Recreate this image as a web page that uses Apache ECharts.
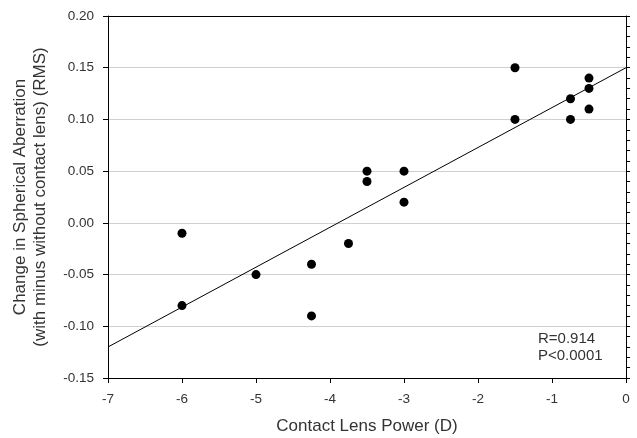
<!DOCTYPE html>
<html>
<head>
<meta charset="utf-8">
<script src="https://cdn.jsdelivr.net/npm/echarts@6/dist/echarts.min.js"></script>
<style>html,body{margin:0;padding:0;background:#fff;}#c{width:637px;height:438px;}</style>
</head>
<body>
<div id="c"></div>
<script>
// Data
const lensPower = [-6, -6, -5, -4.25, -4.25, -3.75, -3.5, -3.5, -3, -3, -1.5, -1.5, -0.75, -0.75, -0.5, -0.5, -0.5];
const saChange  = [-0.01, -0.08, -0.05, -0.04, -0.09, -0.02, 0.05, 0.04, 0.05, 0.02, 0.15, 0.10, 0.12, 0.10, 0.14, 0.13, 0.11];
const fitX = [-7, 0];
const fitY = [-0.12, 0.15];
const xTicks = [-7, -6, -5, -4, -3, -2, -1, 0];
const yTicks = [-0.15, -0.10, -0.05, 0.00, 0.05, 0.10, 0.15, 0.20];
const annotation = ['R=0.914', 'P<0.0001'];

const points = lensPower.map((x, i) => [x, saChange[i]]);
const fitLine = fitX.map((x, i) => [x, fitY[i]]);

const font = 'Liberation Sans, Arial, sans-serif';
const txt = '#333';
const chart = echarts.init(document.getElementById('c'), null, {renderer: 'canvas'});
chart.setOption({
  backgroundColor: '#fff',
  animation: false,
  grid: {left: 108, right: 11, top: 16, bottom: 60, containLabel: false, outerBoundsMode: 'none'},
  xAxis: [{
    type: 'value', min: xTicks[0], max: xTicks[xTicks.length - 1], interval: 1,
    position: 'bottom',
    axisLine: {show: true, onZero: false, lineStyle: {color: '#000', width: 1}},
    axisTick: {show: true, inside: false, length: 5, lineStyle: {color: '#000'}},
    axisLabel: {color: txt, fontFamily: font, fontSize: 13.5, margin: 14},
    splitLine: {show: false},
    name: 'Contact Lens Power (D)', nameLocation: 'middle', nameGap: 40,
    nameTextStyle: {color: txt, fontFamily: font, fontSize: 17}
  }, {
    type: 'value', min: xTicks[0], max: xTicks[xTicks.length - 1], position: 'top',
    axisLine: {show: true, onZero: false, lineStyle: {color: '#000', width: 1}},
    axisTick: {show: false}, axisLabel: {show: false}, splitLine: {show: false}
  }],
  yAxis: [{
    type: 'value', min: yTicks[0], max: yTicks[yTicks.length - 1], interval: 0.05,
    position: 'left',
    axisLine: {show: true, onZero: false, lineStyle: {color: '#000', width: 1}},
    axisTick: {show: true, inside: false, length: 5, lineStyle: {color: '#000'}},
    axisLabel: {color: txt, fontFamily: font, fontSize: 13.5, margin: 14, formatter: v => v.toFixed(2)},
    splitLine: {show: true, lineStyle: {color: '#d0d0d0', width: 1}},
    name: 'Change in Spherical Aberration\n(with minus without contact lens) (RMS)',
    nameLocation: 'middle', nameGap: 58, nameRotate: 90,
    nameTextStyle: {color: txt, fontFamily: font, fontSize: 17, lineHeight: 20}
  }, {
    type: 'value', min: yTicks[0], max: yTicks[yTicks.length - 1], interval: 0.01,
    position: 'right',
    axisLine: {show: true, onZero: false, lineStyle: {color: '#000', width: 1}},
    axisTick: {show: true, inside: false, length: 4, lineStyle: {color: '#000'}},
    axisLabel: {show: false}, splitLine: {show: false}
  }, {
    type: 'value', min: yTicks[0], max: yTicks[yTicks.length - 1], interval: 0.01,
    position: 'left',
    axisLine: {show: false},
    axisTick: {show: true, inside: true, length: 3, lineStyle: {color: '#000'}},
    axisLabel: {show: false}, splitLine: {show: false}
  }],
  series: [{
    type: 'line', data: fitLine, xAxisIndex: 0, yAxisIndex: 0,
    symbol: 'none', lineStyle: {color: '#000', width: 1}, silent: true, z: 3
  }, {
    type: 'scatter', data: points, xAxisIndex: 0, yAxisIndex: 0,
    symbol: 'circle', symbolSize: 9, itemStyle: {color: '#000', opacity: 1}, z: 4
  }],
  graphic: [{
    type: 'text', left: 538, top: 330,
    style: {text: annotation.join('\n'), fill: txt, font: '15px ' + font, lineHeight: 17}
  }]
});
</script>
</body>
</html>
